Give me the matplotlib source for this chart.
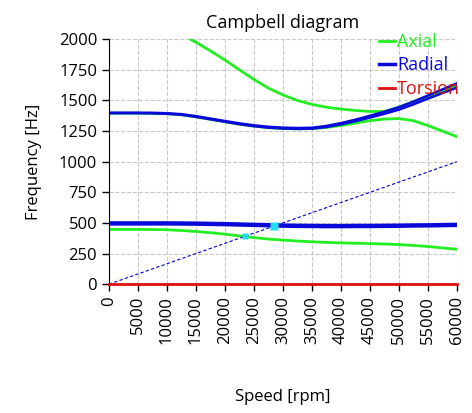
import numpy as np
import matplotlib
matplotlib.use('Agg')
import matplotlib.pyplot as plt

plt.rcParams['font.family'] = ['Open Sans', 'DejaVu Sans']

# speed grid [rpm]
speed = [0, 2500, 5000, 7500, 10000, 12500, 15000, 17500, 20000, 22500, 25000, 27500,
         30000, 32500, 35000, 37500, 40000, 42500, 45000, 47500, 50000, 52500, 55000, 57500, 60000]

# axial modes
axial_low = [447, 447, 447, 446, 444, 438, 430, 420, 408, 394, 380, 368,
             360, 352, 346, 341, 337, 334, 331, 328, 323, 316, 307, 296, 285]
axial_mid = [1396, 1396, 1396, 1395, 1391, 1383, 1366, 1346, 1326, 1306, 1290, 1278,
             1271, 1268, 1270, 1280, 1295, 1315, 1335, 1348, 1352, 1335, 1295, 1250, 1205]
axial_up_speed = [14000, 15000, 17500, 20000, 22500, 25000, 27500, 30000, 32500, 35000,
                  37500, 40000, 42500, 45000, 47500, 50000, 52500, 55000, 57500, 60000]
axial_up = [2000, 1975, 1905, 1830, 1750, 1672, 1600, 1545, 1500, 1468,
            1445, 1430, 1418, 1410, 1410, 1445, 1490, 1535, 1580, 1620]

# radial modes (forward / backward pairs)
radial_low_a = [500, 500, 500, 500, 500, 499, 498, 496, 494, 491, 488, 485,
                482, 480, 479, 478, 478, 479, 479, 480, 481, 483, 484, 486, 488]
radial_low_b = [492, 492, 492, 492, 492, 491, 490, 488, 486, 483, 480, 477,
                474, 472, 471, 470, 470, 471, 471, 472, 473, 475, 476, 478, 480]
radial_up_a = [1400, 1400, 1400, 1399, 1396, 1388, 1372, 1352, 1332, 1313, 1297, 1285,
               1278, 1275, 1277, 1292, 1315, 1343, 1375, 1408, 1445, 1490, 1540, 1590, 1640]
radial_up_b = [1396, 1396, 1396, 1395, 1391, 1383, 1366, 1346, 1326, 1306, 1290, 1278,
               1271, 1268, 1270, 1283, 1305, 1331, 1360, 1391, 1425, 1468, 1515, 1560, 1605]

torsion = [0] * len(speed)

# 1X excitation line and crossings
excit_speed = [0, 60000]
excit_freq = [0, 1000]
cross_speed = [23500, 28500]
cross_freq = [392, 478]
cross_size = [4, 6]

fig = plt.figure(figsize=(4.72, 4.13), dpi=100)
ax = fig.add_axes([0.231, 0.312, 0.737, 0.593])

green = '#22ee22'
blue = '#0a0ad8'

ax.plot(speed, axial_low, color=green, lw=2, label='Axial')
ax.plot(axial_up_speed, axial_up, color=green, lw=2)
ax.plot(speed, axial_mid, color=green, lw=2)

ax.plot(excit_speed, excit_freq, color='#0000cc', lw=0.8, ls='--', dashes=(3, 2))

ax.plot(speed, radial_low_a, color=blue, lw=2.5, label='Radial')
ax.plot(speed, radial_low_b, color=blue, lw=2.5)
ax.plot(speed, radial_up_a, color=blue, lw=1.8)
ax.plot(speed, radial_up_b, color=blue, lw=1.8)

ax.plot(speed, torsion, color='#dd1111', lw=2, label='Torsion', clip_on=False, zorder=4)

for s, f, m in zip(cross_speed, cross_freq, cross_size):
    ax.plot(s, f, 's', color='#22ddee', ms=m, mec='none', zorder=5)

ax.set_xlim(0, 60000)
ax.set_ylim(0, 2000)
ax.set_xticks(np.arange(0, 60001, 5000))
ax.set_yticks(np.arange(0, 2001, 250))
ax.tick_params(axis='x', labelrotation=90)
ax.tick_params(labelsize=12, length=5, width=1)
ax.grid(True, ls='--', color='#c8c8c8', lw=0.8)
ax.spines['top'].set_visible(False)
ax.spines['right'].set_visible(False)

ax.set_title('Campbell diagram', fontsize=13, pad=8)
ax.set_ylabel('Frequency [Hz]', fontsize=12, labelpad=12)
ax.set_xlabel('Speed [rpm]', fontsize=12, labelpad=32)

leg = ax.legend(loc='upper right', bbox_to_anchor=(1.03, 1.055), frameon=False,
                fontsize=13, handlelength=0.9, handletextpad=0.1,
                labelspacing=0.3, borderaxespad=0, labelcolor='linecolor')

fig.savefig('out.png', dpi=100)
